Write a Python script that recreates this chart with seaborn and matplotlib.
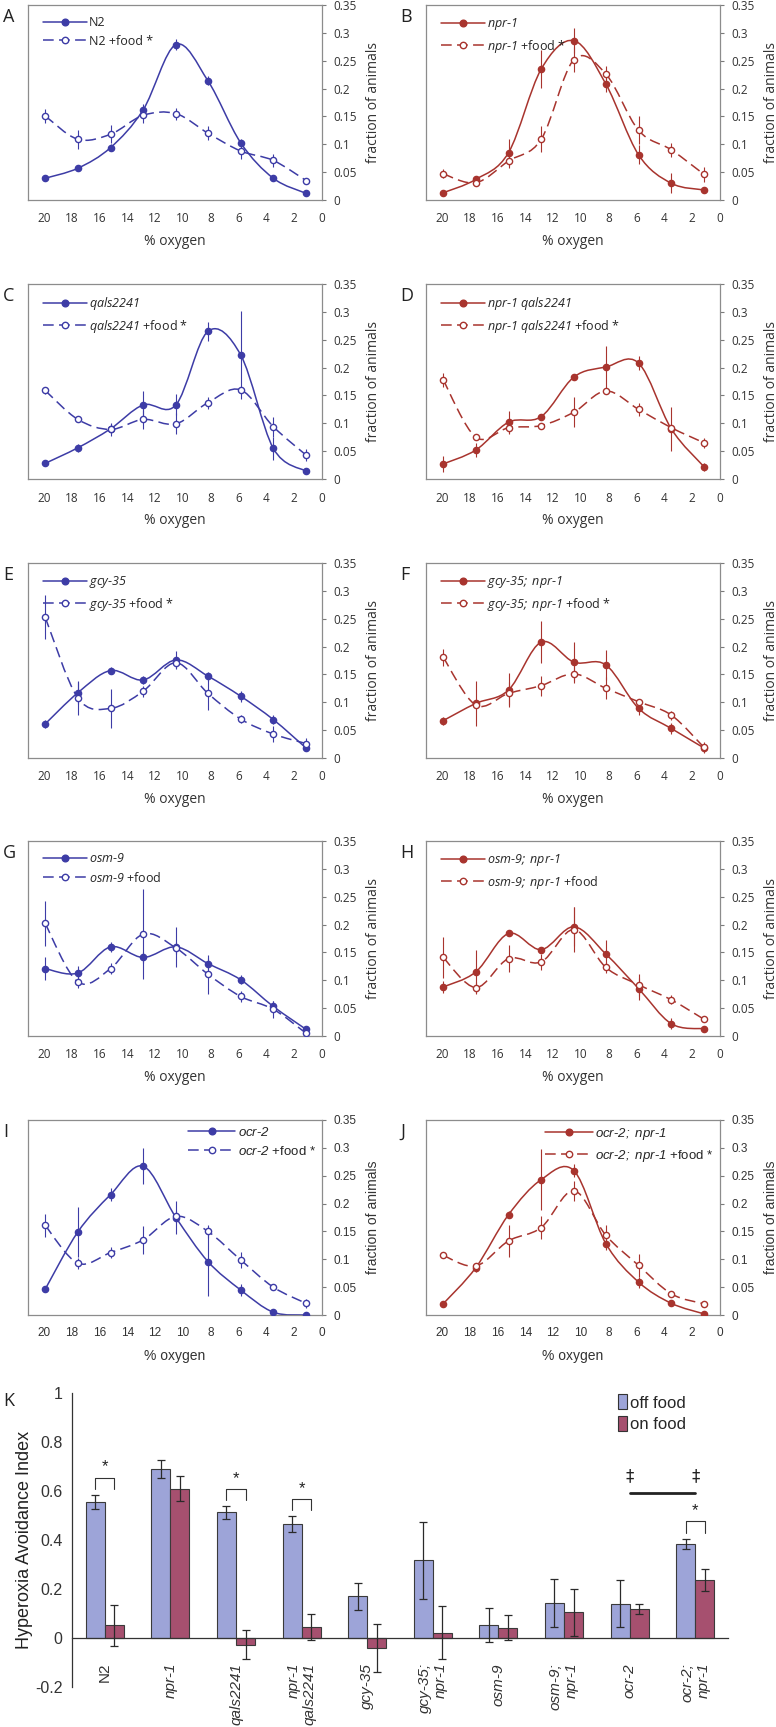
import numpy as np
import pandas as pd
import matplotlib
matplotlib.use("Agg")
import matplotlib.pyplot as plt
import seaborn as sns
from matplotlib.path import Path
from matplotlib.patches import PathPatch, Patch
from matplotlib.lines import Line2D
from matplotlib.ticker import MultipleLocator, FuncFormatter
from matplotlib import font_manager

# ---- data ---------------------------------------------------------------
oxygen = [19.9, 17.55, 15.2, 12.85, 10.5, 8.2, 5.85, 3.5, 1.15]

n2 = [0.039, 0.057, 0.094, 0.162, 0.279, 0.214, 0.103, 0.039, 0.012]
n2_err = [0.004, 0.004, 0.006, 0.010, 0.010, 0.008, 0.006, 0.004, 0.003]
n2_food = [0.151, 0.109, 0.118, 0.152, 0.155, 0.120, 0.088, 0.071, 0.035]
n2_food_err = [0.013, 0.017, 0.016, 0.013, 0.011, 0.013, 0.014, 0.011, 0.005]

npr1 = [0.013, 0.037, 0.085, 0.235, 0.286, 0.208, 0.081, 0.030, 0.018]
npr1_err = [0.004, 0.005, 0.024, 0.034, 0.022, 0.014, 0.017, 0.018, 0.006]
npr1_food = [0.047, 0.031, 0.070, 0.109, 0.252, 0.226, 0.125, 0.090, 0.046]
npr1_food_err = [0.008, 0.004, 0.013, 0.023, 0.022, 0.015, 0.025, 0.012, 0.014]

qa = [0.028, 0.056, 0.090, 0.133, 0.133, 0.265, 0.223, 0.055, 0.014]
qa_err = [0.005, 0.007, 0.008, 0.025, 0.019, 0.017, 0.079, 0.020, 0.003]
qa_food = [0.159, 0.107, 0.089, 0.107, 0.099, 0.137, 0.160, 0.094, 0.043]
qa_food_err = [0.007, 0.005, 0.011, 0.017, 0.019, 0.011, 0.006, 0.018, 0.011]

nq = [0.027, 0.052, 0.102, 0.112, 0.183, 0.201, 0.208, 0.090, 0.022]
nq_err = [0.015, 0.012, 0.020, 0.005, 0.005, 0.038, 0.012, 0.040, 0.007]
nq_food = [0.178, 0.075, 0.092, 0.096, 0.120, 0.158, 0.125, 0.092, 0.065]
nq_food_err = [0.012, 0.005, 0.012, 0.004, 0.027, 0.005, 0.012, 0.006, 0.009]

gcy = [0.061, 0.117, 0.157, 0.140, 0.176, 0.147, 0.111, 0.069, 0.018]
gcy_err = [0.008, 0.020, 0.006, 0.008, 0.016, 0.008, 0.010, 0.008, 0.006]
gcy_food = [0.253, 0.108, 0.089, 0.120, 0.171, 0.116, 0.070, 0.043, 0.026]
gcy_food_err = [0.040, 0.030, 0.035, 0.010, 0.010, 0.030, 0.008, 0.015, 0.010]

gn = [0.067, 0.098, 0.122, 0.208, 0.172, 0.167, 0.089, 0.053, 0.018]
gn_err = [0.007, 0.040, 0.030, 0.037, 0.037, 0.027, 0.012, 0.010, 0.008]
gn_food = [0.181, 0.095, 0.116, 0.130, 0.151, 0.125, 0.101, 0.077, 0.019]
gn_food_err = [0.015, 0.004, 0.020, 0.018, 0.013, 0.020, 0.005, 0.008, 0.010]

osm = [0.121, 0.113, 0.160, 0.141, 0.160, 0.130, 0.101, 0.053, 0.012]
osm_err = [0.020, 0.012, 0.009, 0.010, 0.036, 0.010, 0.008, 0.010, 0.004]
osm_food = [0.202, 0.097, 0.121, 0.183, 0.158, 0.111, 0.071, 0.048, 0.005]
osm_food_err = [0.040, 0.010, 0.010, 0.080, 0.010, 0.035, 0.010, 0.015, 0.004]

on9 = [0.088, 0.115, 0.184, 0.155, 0.196, 0.147, 0.085, 0.022, 0.013]
on9_err = [0.010, 0.040, 0.005, 0.005, 0.035, 0.025, 0.020, 0.010, 0.004]
on9_food = [0.141, 0.087, 0.139, 0.133, 0.191, 0.123, 0.092, 0.065, 0.030]
on9_food_err = [0.036, 0.010, 0.025, 0.015, 0.040, 0.010, 0.020, 0.008, 0.004]

ocr = [0.046, 0.149, 0.216, 0.267, 0.175, 0.096, 0.045, 0.005, 0.000]
ocr_err = [0.005, 0.045, 0.012, 0.032, 0.030, 0.062, 0.010, 0.003, 0.002]
ocr_food = [0.161, 0.093, 0.112, 0.135, 0.177, 0.150, 0.099, 0.050, 0.021]
ocr_food_err = [0.021, 0.010, 0.010, 0.025, 0.010, 0.012, 0.014, 0.003, 0.008]

on2 = [0.020, 0.085, 0.180, 0.243, 0.259, 0.128, 0.059, 0.021, 0.002]
on2_err = [0.006, 0.007, 0.006, 0.055, 0.012, 0.012, 0.010, 0.003, 0.002]
on2_food = [0.107, 0.088, 0.133, 0.157, 0.223, 0.143, 0.089, 0.038, 0.020]
on2_food_err = [0.004, 0.005, 0.028, 0.020, 0.018, 0.018, 0.020, 0.004, 0.006]

strains = ["N2", "npr-1", "qals2241", "npr-1\nqals2241", "gcy-35",
           "gcy-35;\nnpr-1", "osm-9", "osm-9;\nnpr-1", "ocr-2", "ocr-2;\nnpr-1"]
off_food = [0.555, 0.691, 0.513, 0.465, 0.170, 0.317, 0.053, 0.143, 0.140, 0.384]
off_food_err = [0.030, 0.037, 0.026, 0.034, 0.056, 0.156, 0.068, 0.097, 0.095, 0.022]
on_food = [0.052, 0.610, -0.027, 0.045, -0.041, 0.022, 0.042, 0.106, 0.118, 0.237]
on_food_err = [0.083, 0.051, 0.058, 0.054, 0.097, 0.107, 0.050, 0.096, 0.021, 0.044]
significant = [0, 2, 3, 9]
dagger_pair = [8, 9]
dagger_level = 0.59

# ---- style ---------------------------------------------------------------
sns.set_style("white")
names = {f.name for f in font_manager.fontManager.ttflist}
main_font = "Open Sans" if "Open Sans" in names else "DejaVu Sans"
narrow_font = "Liberation Sans Narrow" if "Liberation Sans Narrow" in names else "Liberation Sans"
plt.rcParams["font.family"] = [main_font, "DejaVu Sans"]
plt.rcParams["mathtext.fontset"] = "custom"
plt.rcParams["mathtext.rm"] = main_font
plt.rcParams["mathtext.it"] = main_font + ":italic"
# italic gene names with italic digits: use the sf / tt slots (no digit->roman rule there)
plt.rcParams["mathtext.sf"] = main_font + ":italic"
plt.rcParams["mathtext.tt"] = narrow_font + ":italic"

blue = "#3d3ca6"
red = "#a8342e"
off_col = "#9da4d8"
on_col = "#a6506f"
grey_txt = "#333333"

W, H = 776, 1727


def rect(x0, y0, x1, y1):
    return [x0 / W, 1 - y1 / H, (x1 - x0) / W, (y1 - y0) / H]


def smooth_path(x, y):
    # Excel-like smoothed line: Catmull-Rom cubic Bezier through the points
    p = np.column_stack([x, y]).astype(float)
    q = np.vstack([p[:1], p, p[-1:]])
    verts, codes = [tuple(p[0])], [Path.MOVETO]
    for i in range(len(p) - 1):
        c1 = q[i + 1] + (q[i + 2] - q[i]) / 6
        c2 = q[i + 2] - (q[i + 3] - q[i + 1]) / 6
        verts += [tuple(c1), tuple(c2), tuple(q[i + 2])]
        codes += [Path.CURVE4] * 3
    return Path(verts, codes)


def gene(name, cmd="mathsf"):
    toks = []
    for tok in name.split(" "):
        toks.append("-".join("$\\%s{%s}$" % (cmd, s) for s in tok.split("-")))
    return " ".join(toks)


dash = (0, (7, 3.5))

panels = [
    ("A", n2, n2_err, n2_food, n2_food_err, "N2", True, blue),
    ("B", npr1, npr1_err, npr1_food, npr1_food_err, "npr-1", True, red),
    ("C", qa, qa_err, qa_food, qa_food_err, "qals2241", True, blue),
    ("D", nq, nq_err, nq_food, nq_food_err, "npr-1 qals2241", True, red),
    ("E", gcy, gcy_err, gcy_food, gcy_food_err, "gcy-35", True, blue),
    ("F", gn, gn_err, gn_food, gn_food_err, "gcy-35; npr-1", True, red),
    ("G", osm, osm_err, osm_food, osm_food_err, "osm-9", False, blue),
    ("H", on9, on9_err, on9_food, on9_food_err, "osm-9; npr-1", False, red),
    ("I", ocr, ocr_err, ocr_food, ocr_food_err, "ocr-2", True, blue),
    ("J", on2, on2_err, on2_food, on2_food_err, "ocr-2; npr-1", True, red),
]

fig = plt.figure(figsize=(W / 100, H / 100), dpi=100)

row_tops = [5, 284, 563, 841, 1120]
col_lefts = [28, 426]
aw, ah = 294, 195

for k, (letter, off, off_e, food, food_e, name, star, color) in enumerate(panels):
    r, c = divmod(k, 2)
    x0, y0 = col_lefts[c], row_tops[r]
    ax = fig.add_axes(rect(x0, y0, x0 + aw, y0 + ah))
    narrow = letter in ("I", "J")
    fam = narrow_font if narrow else main_font

    for vals, errs, dashed in ((off, off_e, False), (food, food_e, True)):
        ax.add_patch(PathPatch(smooth_path(oxygen, vals), fill=False, edgecolor=color,
                               lw=1.1, linestyle=dash if dashed else "-", zorder=2))
        ax.errorbar(oxygen, vals, yerr=errs, fmt="none", ecolor=color, elinewidth=0.8, zorder=3)
        sns.scatterplot(x=oxygen, y=vals, ax=ax, color="white" if dashed else color,
                        edgecolor=color, linewidth=1.0, s=20, zorder=4, legend=False)

    ax.set_xlim(21.13, 0)
    ax.set_ylim(0, 0.35)
    ax.set_xticks(range(0, 21, 2))
    ax.set_yticks(np.arange(0, 0.351, 0.05))
    ax.yaxis.tick_right()
    ax.yaxis.set_major_formatter(FuncFormatter(lambda v, _: "%g" % round(v, 2)))
    ax.tick_params(axis="both", direction="out", length=3, width=0.8, color="#7a7a7a",
                   labelsize=8.5, labelcolor=grey_txt, labelfontfamily=fam)
    ax.tick_params(axis="x", pad=6)
    ax.tick_params(axis="y", pad=5)
    for s in ax.spines.values():
        s.set_color("#8c8c8c")
        s.set_linewidth(0.9)

    ax.set_xlabel("% oxygen", fontsize=10, color=grey_txt, family=fam)
    ax.xaxis.set_label_coords(0.5, -34 / ah)
    ax.yaxis.set_label_position("right")
    ax.set_ylabel("fraction of animals", fontsize=10, color=grey_txt, family=fam)
    ax.yaxis.set_label_coords(1 + 44 / aw, 0.5)

    italic = name != "N2"
    cmd = "mathtt" if narrow else "mathsf"
    lab = gene(name, cmd) if italic else name
    lab_food = lab + " +food" + (" *" if star else "")
    handles = [
        Line2D([], [], color=color, lw=1.1, marker="o", markersize=4.8, mfc=color, mec=color),
        Line2D([], [], color=color, lw=1.1, ls=dash, marker="o", markersize=4.6,
               mfc="white", mec=color, mew=1.0),
    ]
    if narrow:
        ax.legend(handles, [lab, lab_food], loc="upper right",
                  bbox_to_anchor=(1 - 6 / aw, 1 - 6 / ah), frameon=False,
                  prop={"family": fam, "size": 9.5}, handlelength=3.6, handletextpad=0.2,
                  labelspacing=0.45, borderpad=0, borderaxespad=0)
    else:
        ax.legend(handles, [lab, lab_food], loc="upper left",
                  bbox_to_anchor=(15 / aw, 1 - 11 / ah), frameon=False,
                  prop={"family": fam, "size": 9}, handlelength=3.5, handletextpad=0.2,
                  labelspacing=0.45, borderpad=0, borderaxespad=0)

    fig.text((3 if c == 0 else 400) / W, 1 - (y0 + 12) / H, letter, fontsize=13,
             ha="left", va="center", color="#222222")

# ---- panel K -------------------------------------------------------------
kx0, kx1 = 72, 728
axk = fig.add_axes(rect(kx0, 1393, kx1, 1687))
df = pd.DataFrame({
    "strain": strains * 2,
    "condition": ["off food"] * len(strains) + ["on food"] * len(strains),
    "index": off_food + on_food,
})
sns.barplot(data=df, x="strain", y="index", hue="condition", palette=[off_col, on_col],
            width=0.58, saturation=1, edgecolor="#3a3a3a", linewidth=0.8,
            errorbar=None, legend=False, ax=axk, zorder=2)

centers = []
for cont, vals, errs in zip(axk.containers, [off_food, on_food], [off_food_err, on_food_err]):
    xs = [p.get_x() + p.get_width() / 2 for p in cont]
    centers.append(xs)
    axk.errorbar(xs, vals, yerr=errs, fmt="none", ecolor="#2a2a2a", elinewidth=0.9,
                 capsize=3, capthick=0.9, zorder=3)

for i in significant:
    yb = off_food[i] + off_food_err[i] + 0.07
    xo, xn = centers[0][i], centers[1][i]
    axk.plot([xo, xo, xn, xn], [yb - 0.047, yb, yb, yb - 0.047], color="#333333", lw=0.8)
    axk.text((xo + xn) / 2, yb + 0.012, "*", ha="center", va="bottom", fontsize=12,
             family="Liberation Sans", color="#222222")

d0, d1 = dagger_pair
axk.plot([d0, d1], [dagger_level, dagger_level], color="#222222", lw=2)
for d in dagger_pair:
    axk.text(d, dagger_level + 0.035, "\u2021", ha="center", va="bottom", fontsize=12,
             family="DejaVu Sans", color="#222222")

axk.set_xlim(-0.5, len(strains) - 0.5)
axk.set_ylim(-0.2, 1.0)
axk.spines["top"].set_visible(False)
axk.spines["right"].set_visible(False)
axk.spines["bottom"].set_position(("data", 0))
for s in ("left", "bottom"):
    axk.spines[s].set_color("#333333")
    axk.spines[s].set_linewidth(0.9)
axk.yaxis.set_major_locator(MultipleLocator(0.2))
axk.yaxis.set_minor_locator(MultipleLocator(0.1))
axk.yaxis.set_major_formatter(FuncFormatter(lambda v, _: "%g" % round(v, 1)))
axk.tick_params(axis="y", which="both", direction="out", length=4, width=0.8,
                color="#333333", labelsize=11.5, labelcolor=grey_txt,
                labelfontfamily=narrow_font, pad=3)
axk.set_xticks(range(len(strains)))
axk.set_xticklabels(strains)
axk.set_xticks(np.arange(0.5, len(strains), 1), minor=True)
axk.tick_params(axis="x", which="major", length=0, pad=18, labelsize=11,
                labelcolor=grey_txt, labelrotation=90)
axk.tick_params(axis="x", which="minor", length=5, width=0.8, direction="out", color="#333333")
for t in axk.get_xticklabels():
    t.set_family("Liberation Sans")
    t.set_multialignment("right")
    t.set_verticalalignment("top")
    if t.get_text() != "N2":
        t.set_style("italic")
axk.set_xlabel("")
axk.set_ylabel("Hyperoxia Avoidance Index", fontsize=13, family="Liberation Sans", color="#222222")
axk.yaxis.set_label_coords(-39 / (kx1 - kx0), 0.5)

axk.legend(handles=[Patch(facecolor=off_col, edgecolor="#333333", lw=0.8, label="off food"),
                    Patch(facecolor=on_col, edgecolor="#333333", lw=0.8, label="on food")],
           loc="upper left", bbox_to_anchor=((618 - kx0) / (kx1 - kx0), 0.995), frameon=False,
           prop={"family": narrow_font, "size": 12}, handlelength=0.55, handleheight=1.0,
           handletextpad=0.15, labelspacing=0.3, borderpad=0, borderaxespad=0)

fig.text(3 / W, 1 - 1401 / H, "K", fontsize=13, ha="left", va="center", color="#222222")

fig.savefig("out.png", dpi=100)
